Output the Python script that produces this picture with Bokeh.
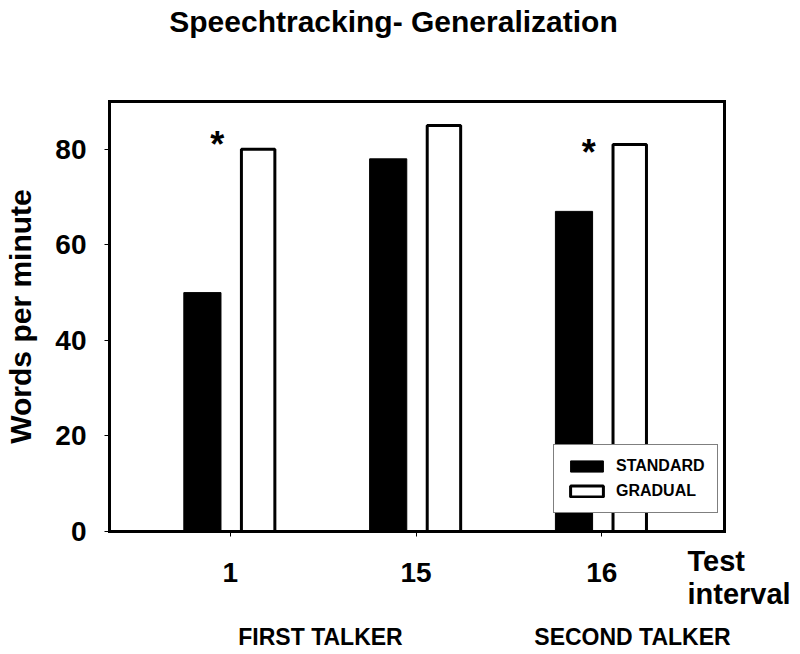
import math
from bokeh.plotting import figure
from bokeh.models import (Range1d, FixedTicker, Label, Legend, LegendItem,
                          ColumnDataSource, LinearAxis)
from bokeh.core.properties import value
from bokeh.transform import dodge
from bokeh.embed import file_html
from bokeh.resources import INLINE

# ---- data ----
categories = ["1", "15", "16"]
standard = [50, 78, 67]
gradual = [80, 85, 81]
series_names = ["STANDARD", "GRADUAL"]
y_ticks = [0, 20, 40, 60, 80]
sig_categories = ["1", "16"]
sig_heights = [81.1, 79.4]
title_text = "Speechtracking- Generalization"
y_title = "Words per minute"
x_title = ["Test", "interval"]
talker_labels = ["FIRST TALKER", "SECOND TALKER"]

FONT = "Liberation Sans"

# ---- layout (pixels) ----
W, H = 792, 654
BOX_L, BOX_R, BOX_T, BOX_B = 109, 724, 101, 531
X0, X1 = 0.35, 3.66          # visible x extent of the plot box
Y0, Y1 = 0, 90               # visible y extent of the plot box
xs = (X1 - X0) / (BOX_R - BOX_L)
ys = (Y1 - Y0) / (BOX_B - BOX_T)
x_start = X0 - BOX_L * xs
x_end = X1 + (W - BOX_R) * xs
y_start = Y0 - (H - BOX_B) * ys
y_end = Y1 + BOX_T * ys

def px(x):
    return x_start + x * xs

def py(y):
    return y_end - y * ys

idx = [i + 1 for i in range(len(categories))]

p = figure(width=W, height=H, output_backend="svg", toolbar_location=None,
           x_range=Range1d(x_start, x_end), y_range=Range1d(y_start, y_end),
           x_axis_location=None, y_axis_location=None, min_border=0)
p.background_fill_color = "white"
p.border_fill_color = "white"
p.outline_line_color = None
p.xgrid.visible = False
p.ygrid.visible = False

src = ColumnDataSource(dict(x=idx, std=standard, grad=gradual))
off = 0.15
r1 = p.vbar(x=dodge("x", -off), top="std", width=0.2, source=src,
            fill_color="black", line_color="black", line_width=1)
r2 = p.vbar(x=dodge("x", off), top="grad", width=0.18, source=src,
            fill_color="white", line_color="black", line_width=3)

def style_axis(ax):
    ax.axis_line_width = 3
    ax.axis_line_color = "black"
    ax.axis_line_cap = "square"
    ax.major_tick_line_color = "black"
    ax.major_tick_line_width = 1
    ax.major_tick_in = 0
    ax.major_tick_out = 5
    ax.minor_tick_line_color = None
    ax.major_label_text_font = FONT
    ax.major_label_text_font_style = "bold"
    ax.major_label_text_font_size = "28px"
    ax.major_label_text_color = "black"

xaxis = LinearAxis(fixed_location=Y0, bounds=(X0, X1), ticker=FixedTicker(ticks=idx),
                   major_label_overrides={i: c for i, c in zip(idx, categories)})
style_axis(xaxis)
xaxis.major_label_standoff = 26
p.add_layout(xaxis, "below")

yaxis = LinearAxis(fixed_location=X0, bounds=(Y0, Y1), ticker=FixedTicker(ticks=y_ticks))
style_axis(yaxis)
yaxis.major_label_standoff = 18
p.add_layout(yaxis, "left")

top_axis = LinearAxis(fixed_location=Y1, bounds=(X0, X1), ticker=FixedTicker(ticks=[]))
style_axis(top_axis)
top_axis.major_label_text_font_size = "0px"
top_axis.major_tick_line_color = None
p.add_layout(top_axis, "above")

right_axis = LinearAxis(fixed_location=X1, bounds=(Y0, Y1), ticker=FixedTicker(ticks=[]))
style_axis(right_axis)
right_axis.major_label_text_font_size = "0px"
right_axis.major_tick_line_color = None
p.add_layout(right_axis, "right")

# significance asterisks
sx = [categories.index(c) + 1 - 0.07 for c in sig_categories]
p.text(x=sx, y=sig_heights, text=["*"] * len(sx), text_font=value(FONT),
       text_font_style="bold", text_font_size="36px", text_align="center",
       text_baseline="alphabetic", text_color="black")

# legend
legend = Legend(items=[LegendItem(label=series_names[0], renderers=[r1]),
                       LegendItem(label=series_names[1], renderers=[r2])],
                location=(553, H - 513), orientation="vertical",
                label_text_font=FONT, label_text_font_style="bold",
                label_text_font_size="16px", label_text_color="black",
                label_height=16, glyph_height=14,
                glyph_width=41, label_standoff=9, spacing=7, padding=12,
                margin=0, border_line_color="black", border_line_width=1.5,
                background_fill_color="white", background_fill_alpha=1.0)
p.add_layout(legend, "center")

def add_label(x, y, text, size, align="center", angle=0.0):
    p.add_layout(Label(x=px(x), y=py(y), text=text, text_font=FONT,
                       text_font_style="bold", text_font_size=size,
                       text_align=align, text_baseline="middle",
                       text_color="black", angle=angle))

add_label(393, 21, title_text, "30px")
add_label(20, 316, y_title, "30px", angle=math.pi / 2)
add_label(687, 560, x_title[0], "29px", align="left")
add_label(687, 593, x_title[1], "29px", align="left")
add_label(320, 636, talker_labels[0], "23px")
add_label(632, 636, talker_labels[1], "23px")

open("out.html", "w").write(file_html(p, INLINE))
